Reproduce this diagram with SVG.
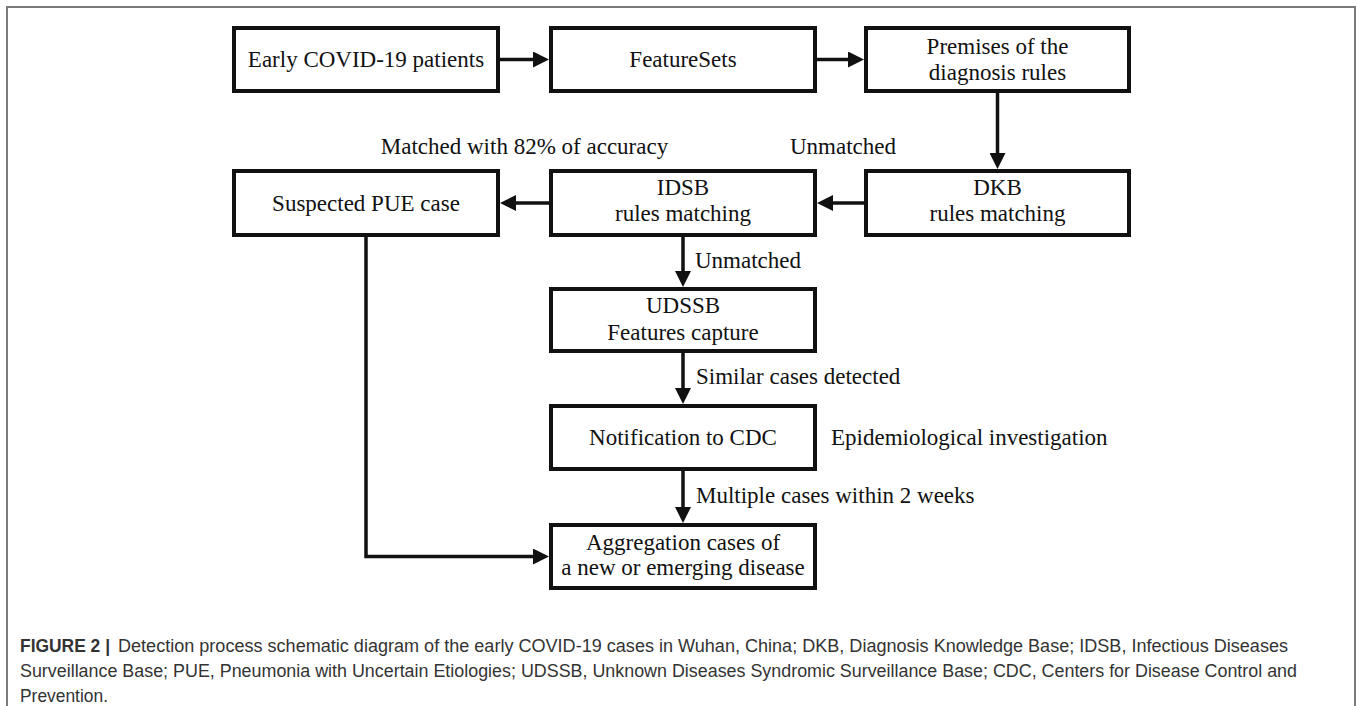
<svg xmlns="http://www.w3.org/2000/svg" width="1357" height="706" viewBox="0 0 1357 706">
  <style>
    .box { fill: #fff; stroke: #111; stroke-width: 4; }
    .lbl { font-family: "Liberation Serif", "Times New Roman", serif; font-size: 23px; fill: #111; }
    .mid { text-anchor: middle; }
    .conn { stroke: #111; stroke-width: 3.5; fill: none; }
    .cap { font-family: "Liberation Sans", Arial, sans-serif; font-size: 17.5px; fill: #333; }
    .frame { stroke: #7a7a7a; stroke-width: 2; fill: none; }
  </style>
  <defs>
    <marker id="ah" markerUnits="userSpaceOnUse" markerWidth="16" markerHeight="16" refX="8" refY="8" orient="auto">
      <path d="M0,0 L16,8 L0,16 z" fill="#111"/>
    </marker>
  </defs>
  <rect width="1357" height="706" fill="#fff"/>
  <path class="frame" d="M7,710 L7,7 L1355,7 L1355,710"/>

  <g id="connectors">
    <line class="conn" x1="500" y1="59.5" x2="541" y2="59.5" marker-end="url(#ah)"/>
    <line class="conn" x1="817" y1="59.5" x2="856" y2="59.5" marker-end="url(#ah)"/>
    <line class="conn" x1="997.5" y1="93" x2="997.5" y2="161" marker-end="url(#ah)"/>
    <line class="conn" x1="864" y1="203" x2="825" y2="203" marker-end="url(#ah)"/>
    <line class="conn" x1="549" y1="203" x2="508" y2="203" marker-end="url(#ah)"/>
    <line class="conn" x1="683" y1="237" x2="683" y2="279" marker-end="url(#ah)"/>
    <line class="conn" x1="683" y1="353" x2="683" y2="396" marker-end="url(#ah)"/>
    <line class="conn" x1="683" y1="471" x2="683" y2="515" marker-end="url(#ah)"/>
    <path class="conn" d="M366,237 L366,556.5 L541,556.5" marker-end="url(#ah)"/>
    <text class="lbl" x="524.5" y="154" text-anchor="middle">Matched with 82% of accuracy</text>
    <text class="lbl" x="790" y="154">Unmatched</text>
    <text class="lbl" x="695" y="268">Unmatched</text>
    <text class="lbl" x="696" y="384">Similar cases detected</text>
    <text class="lbl" x="831" y="445">Epidemiological investigation</text>
    <text class="lbl" x="696" y="503">Multiple cases within 2 weeks</text>
  </g>

  <g id="early">
    <rect class="box" x="234" y="28" width="264" height="63"/>
    <text class="lbl mid" x="366" y="67">Early COVID-19 patients</text>
  </g>
  <g id="featuresets">
    <rect class="box" x="551" y="28" width="264" height="63"/>
    <text class="lbl mid" x="683" y="67">FeatureSets</text>
  </g>
  <g id="premises">
    <rect class="box" x="866" y="28" width="263" height="63"/>
    <text class="lbl mid" x="997.5" y="54">Premises of the</text>
    <text class="lbl mid" x="997.5" y="80">diagnosis rules</text>
  </g>
  <g id="dkb">
    <rect class="box" x="866" y="171" width="263" height="64"/>
    <text class="lbl mid" x="997.5" y="195">DKB</text>
    <text class="lbl mid" x="997.5" y="221">rules matching</text>
  </g>
  <g id="idsb">
    <rect class="box" x="551" y="171" width="264" height="64"/>
    <text class="lbl mid" x="683" y="195">IDSB</text>
    <text class="lbl mid" x="683" y="221">rules matching</text>
  </g>
  <g id="pue">
    <rect class="box" x="234" y="171" width="264" height="64"/>
    <text class="lbl mid" x="366" y="211">Suspected PUE case</text>
  </g>
  <g id="udssb">
    <rect class="box" x="551" y="289" width="264" height="62"/>
    <text class="lbl mid" x="683" y="313">UDSSB</text>
    <text class="lbl mid" x="683" y="340">Features capture</text>
  </g>
  <g id="cdc">
    <rect class="box" x="551" y="406" width="264" height="63"/>
    <text class="lbl mid" x="683" y="445">Notification to CDC</text>
  </g>
  <g id="aggregation">
    <rect class="box" x="551" y="525" width="264" height="63"/>
    <text class="lbl mid" x="683" y="550">Aggregation cases of</text>
    <text class="lbl mid" x="683" y="575">a new or emerging disease</text>
  </g>

  <g id="caption">
    <text class="cap" x="20" y="652" font-weight="bold" fill="#222" textLength="90" lengthAdjust="spacingAndGlyphs">FIGURE 2 |</text>
    <text class="cap" x="118" y="652" textLength="1170" lengthAdjust="spacingAndGlyphs">Detection process schematic diagram of the early COVID-19 cases in Wuhan, China; DKB, Diagnosis Knowledge Base; IDSB, Infectious Diseases</text>
    <text class="cap" x="20" y="677" textLength="1277" lengthAdjust="spacingAndGlyphs">Surveillance Base; PUE, Pneumonia with Uncertain Etiologies; UDSSB, Unknown Diseases Syndromic Surveillance Base; CDC, Centers for Disease Control and</text>
    <text class="cap" x="20" y="702" textLength="88" lengthAdjust="spacingAndGlyphs">Prevention.</text>
  </g>
</svg>
